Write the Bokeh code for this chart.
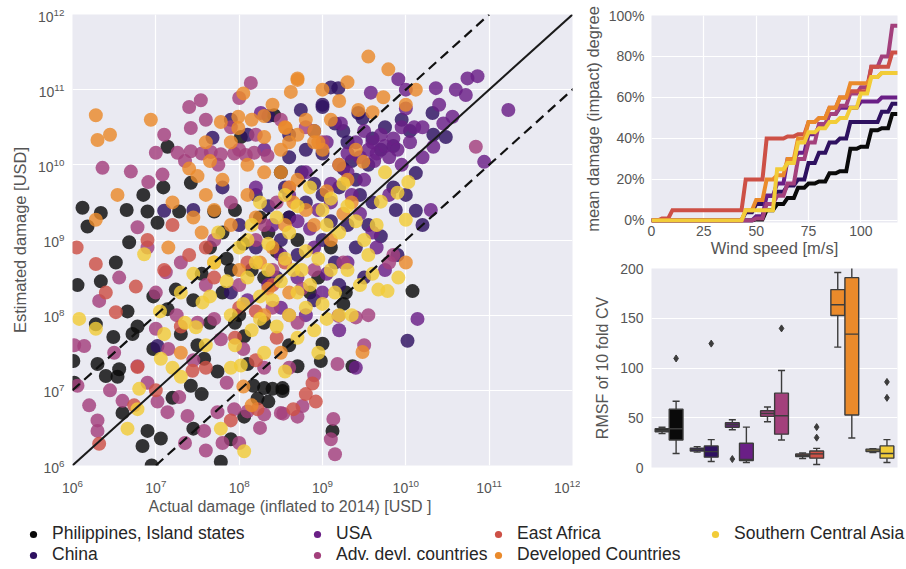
import numpy as np
from bokeh.plotting import figure
from bokeh.layouts import row, column
from bokeh.models import (FixedTicker, Slope, Legend, LegendItem, Title,
                          NumeralTickFormatter, Range1d, ColumnDataSource)
from bokeh.embed import file_html
from bokeh.resources import INLINE

# ---------------- data ----------------
regions = ["Philippines, Island states", "China", "USA", "Adv. devl. countries",
           "East Africa", "Developed Countries", "Southern Central Asia"]
colors = ["#0a0a0a", "#2e1160", "#6a1f86", "#a3407c", "#cd5046", "#ea8a2b", "#f2cc38"]

# scatter: (log10 actual damage, log10 estimated damage)
phil_log = [(7.14, 10.24), (7.09, 9.70), (7.42, 9.76), (6.12, 9.43), (6.34, 9.36), (6.18, 9.18),
            (6.90, 9.38), (7.28, 9.38), (7.02, 9.23), (6.68, 8.97), (7.70, 9.38), (8.02, 10.37),
            (8.42, 10.66), (8.50, 9.90), (6.34, 8.45), (6.52, 8.70), (6.97, 8.25), (7.24, 8.34),
            (7.14, 8.08), (6.66, 8.05), (6.78, 7.85), (6.72, 7.75), (6.49, 7.71), (6.28, 7.88),
            (6.30, 7.35), (6.40, 7.19), (6.54, 7.18), (6.56, 7.28), (6.97, 7.55), (7.30, 7.75),
            (7.42, 7.06), (7.58, 7.42), (7.74, 7.25), (8.06, 7.72), (8.17, 7.06), (8.30, 7.03),
            (8.40, 7.02), (8.52, 7.03), (6.84, 6.26), (6.90, 6.46), (7.06, 6.36), (7.45, 6.49),
            (8.06, 6.65), (8.22, 6.89), (7.78, 6.05), (6.06, 8.40), (6.01, 7.39), (6.02, 7.10),
            (10.08, 8.32), (9.36, 7.32), (8.98, 7.39), (9.28, 8.30), (9.25, 8.15), (8.52, 6.99),
            (8.70, 7.32), (9.00, 7.62), (9.12, 6.46), (7.65, 8.90), (7.80, 9.10), (7.90, 8.60),
            (8.05, 8.95), (8.30, 8.50), (8.45, 8.85), (8.60, 9.30), (7.55, 8.55), (7.80, 8.30),
            (8.00, 8.00), (8.30, 7.90), (8.95, 8.50), (9.10, 8.90), (7.55, 6.95), (6.95, 6.00),
            (8.15, 8.60), (8.35, 9.10), (8.70, 9.00), (8.85, 8.30), (7.95, 7.90), (8.60, 7.60),
            (7.65, 7.90), (7.45, 8.20), (7.95, 9.40), (8.25, 9.30), (6.65, 9.40), (6.85, 9.60),
            (7.20, 6.90), (7.50, 7.60), (8.10, 7.35), (8.35, 6.85), (7.90, 6.35), (6.60, 6.70),
            (7.85, 8.75)]
china_log = [(7.68, 10.36), (7.10, 9.39), (9.10, 11.03), (9.19, 11.02), (10.32, 10.69), (10.33, 10.40),
             (10.48, 10.37), (9.43, 10.69), (9.48, 10.62), (10.12, 9.89), (9.88, 9.40), (10.12, 9.39),
             (10.02, 7.66), (7.02, 7.59), (8.35, 10.65), (8.60, 10.40), (8.80, 10.20), (8.90, 10.45),
             (9.00, 10.15), (9.30, 10.30), (9.60, 10.35), (9.70, 10.20), (9.75, 10.50), (9.85, 10.25),
             (9.95, 10.60), (10.05, 10.45), (9.55, 10.00), (9.40, 9.80), (9.20, 9.70), (9.00, 9.60),
             (8.80, 9.50), (8.60, 9.30), (8.50, 9.00), (8.70, 8.80), (9.30, 9.20), (9.60, 9.50),
             (9.70, 9.05), (9.90, 8.80), (9.50, 8.50), (9.20, 8.40), (8.90, 8.20), (9.85, 9.70),
             (9.00, 10.80), (8.20, 9.60), (8.00, 9.20), (7.90, 8.30), (9.40, 8.90), (10.20, 9.20),
             (9.15, 10.55), (9.25, 10.45), (8.74, 10.73), (9.00, 10.77), (8.60, 10.10), (8.75, 9.90),
             (9.25, 9.95), (9.35, 10.05), (9.45, 9.60), (9.10, 9.25), (9.00, 9.00), (8.35, 9.45),
             (8.20, 8.90), (8.45, 8.50), (9.55, 9.20), (10.00, 9.60), (7.80, 9.70), (7.45, 9.40),
             (8.10, 10.40), (7.90, 10.60), (8.55, 9.70), (8.90, 9.75), (9.15, 8.70)]
usa_log = [(8.26, 10.69), (9.91, 11.14), (9.58, 10.96), (10.36, 11.02), (10.74, 11.15), (10.86, 11.18),
           (10.72, 10.93), (11.23, 10.73), (10.94, 10.04), (10.56, 10.64), (10.33, 10.24), (10.20, 10.50),
           (9.22, 10.55), (10.14, 7.95), (9.60, 10.30), (9.65, 10.15), (9.70, 10.40), (9.75, 10.25),
           (9.80, 10.10), (9.85, 10.35), (9.90, 10.20), (9.55, 10.20), (9.62, 10.05), (9.45, 10.10),
           (9.95, 10.00), (10.05, 10.30), (10.20, 10.10), (10.40, 10.80), (10.00, 10.75), (9.50, 9.80),
           (9.30, 9.90), (9.10, 9.50), (8.80, 9.90), (8.60, 9.60), (8.40, 9.20), (8.90, 8.90),
           (9.30, 8.70), (9.65, 8.90), (9.00, 8.30), (8.70, 8.50), (8.50, 8.10), (9.80, 9.60),
           (10.30, 9.40), (8.30, 10.20), (9.40, 7.30), (8.20, 9.70), (10.00, 11.00), (9.20, 10.00),
           (9.30, 10.15), (9.40, 10.30), (9.50, 10.45), (9.35, 9.60), (9.45, 9.35), (9.10, 9.75),
           (9.05, 10.30), (8.95, 9.40), (8.85, 9.15), (9.60, 9.10), (9.75, 8.60), (8.50, 8.80),
           (8.10, 8.20), (8.80, 8.00), (9.20, 7.80), (10.10, 10.50), (10.60, 11.00), (10.45, 10.55),
           (9.95, 10.50), (8.70, 9.25), (9.05, 8.55), (8.35, 8.40)]
adv_log = [(6.36, 9.96), (6.70, 9.91), (6.91, 9.77), (7.00, 10.16), (7.08, 9.87), (7.40, 10.77),
           (7.54, 10.86), (7.42, 10.49), (8.00, 10.89), (8.14, 11.09), (6.78, 9.17), (7.26, 10.16),
           (7.42, 10.18), (7.55, 10.15), (7.66, 10.17), (7.78, 10.14), (7.94, 10.15), (8.08, 10.13),
           (8.18, 10.16), (8.34, 10.12), (7.35, 10.05), (7.75, 10.00), (8.00, 10.20), (6.32, 8.19),
           (6.14, 7.59), (6.06, 7.06), (7.00, 7.82), (6.78, 7.32), (6.60, 6.86), (6.30, 6.60),
           (6.30, 6.46), (7.02, 6.85), (7.14, 6.71), (7.28, 6.91), (7.38, 6.66), (7.58, 6.46),
           (7.74, 6.71), (7.94, 6.75), (8.10, 6.72), (8.30, 6.68), (8.50, 6.70), (7.12, 8.57),
           (6.56, 8.50), (7.78, 7.68), (6.02, 7.60), (8.76, 6.79), (8.70, 6.65), (8.53, 6.69),
           (9.13, 6.62), (9.18, 7.35), (9.40, 7.97), (9.19, 7.99), (9.80, 8.70), (9.85, 8.80),
           (8.90, 7.20), (10.84, 10.24), (8.20, 9.00), (8.40, 8.60), (8.00, 8.40), (7.70, 9.00),
           (8.60, 9.70), (8.80, 10.50), (9.00, 10.30), (7.50, 7.90), (7.30, 8.70), (6.90, 8.90),
           (7.60, 6.20), (8.00, 6.30), (9.10, 6.35), (7.10, 10.40), (7.60, 10.60), (7.90, 10.50),
           (8.20, 10.40), (8.50, 10.60), (8.45, 9.50), (8.30, 9.20), (7.90, 9.50), (7.60, 8.40),
           (7.25, 8.00), (7.00, 8.30), (8.60, 8.00), (8.90, 8.60), (9.25, 8.70), (9.55, 8.00),
           (9.50, 7.60), (8.70, 7.90), (8.30, 7.30), (7.85, 7.10), (8.60, 7.30), (6.45, 7.00),
           (6.90, 7.10), (6.20, 6.80), (7.35, 6.30), (9.15, 6.15), (7.45, 7.40), (7.70, 7.95),
           (8.05, 7.55), (8.40, 8.10), (8.75, 8.35), (7.15, 7.55), (6.50, 7.50), (7.80, 6.30),
           (8.25, 6.50)]
eaf_log = [(6.28, 8.68), (6.76, 8.38), (6.52, 8.04), (6.78, 7.31), (6.32, 6.29), (6.74, 6.80),
           (7.44, 7.26), (8.22, 6.75), (8.88, 7.09), (8.92, 6.85), (8.80, 6.95), (7.60, 8.90),
           (7.20, 9.20), (8.00, 8.10), (8.20, 7.40), (7.90, 6.60), (6.90, 9.00), (8.40, 8.40),
           (6.05, 8.90), (7.70, 8.50), (8.55, 8.70), (8.10, 8.70), (7.60, 7.30), (7.00, 7.00),
           (8.65, 6.75), (6.40, 8.30), (7.40, 8.80), (8.45, 7.70), (7.30, 7.85), (8.20, 8.05),
           (7.95, 7.70), (7.10, 8.60)]
dev_log = [(6.28, 10.66), (6.30, 10.33), (6.94, 10.60), (6.54, 9.60), (7.78, 10.57), (7.99, 10.64),
           (7.99, 10.49), (8.30, 10.37), (8.56, 10.49), (8.62, 10.97), (8.70, 11.13), (6.28, 9.27),
           (9.55, 11.44), (9.79, 11.27), (8.70, 11.15), (9.00, 11.00), (9.73, 10.90), (10.12, 11.00),
           (9.43, 10.73), (10.00, 10.80), (9.49, 10.04), (9.48, 7.51), (10.00, 8.70), (7.40, 9.95),
           (7.50, 9.85), (7.20, 9.50), (7.60, 9.60), (7.80, 9.80), (8.10, 10.00), (8.30, 9.90),
           (8.50, 10.20), (8.60, 9.70), (8.80, 10.60), (8.90, 10.30), (9.10, 10.60), (9.20, 10.00),
           (9.30, 9.80), (8.20, 9.30), (7.90, 9.20), (8.40, 8.90), (8.90, 9.20), (9.10, 9.00),
           (9.35, 9.50), (7.70, 8.70), (8.00, 8.60), (8.60, 8.30), (8.30, 8.00), (8.50, 7.50),
           (8.15, 6.80), (7.30, 7.50), (8.40, 10.80), (8.05, 10.95), (9.30, 11.10), (8.55, 10.50),
           (8.60, 10.30), (8.70, 10.40), (8.90, 10.45), (9.00, 10.20), (8.95, 10.30), (8.50, 9.90),
           (8.70, 9.80), (8.65, 9.50), (8.80, 9.40), (8.55, 9.20), (9.05, 9.65), (7.60, 10.30),
           (7.90, 10.30), (8.15, 10.60), (8.30, 10.65), (7.70, 9.40), (7.55, 9.10), (8.10, 9.60),
           (8.25, 8.70), (9.60, 10.70), (9.20, 10.85), (6.45, 10.40), (9.25, 9.35), (7.15, 8.90),
           (7.45, 9.30), (8.35, 8.35), (8.05, 7.05), (7.65, 10.05), (9.40, 10.20)]
sca_log = [(6.86, 8.81), (6.08, 7.95), (6.28, 7.82), (7.10, 7.75), (7.06, 7.42), (6.80, 7.02),
           (7.30, 7.18), (7.56, 8.17), (7.70, 8.70), (7.48, 7.84), (8.02, 7.33), (8.06, 6.19),
           (6.66, 6.49), (6.78, 6.75), (7.78, 6.49), (10.03, 9.77), (9.90, 9.63), (10.00, 9.27),
           (9.70, 9.51), (9.91, 8.50), (9.67, 8.34), (9.78, 8.32), (8.00, 8.90), (8.10, 8.50),
           (8.20, 8.70), (8.25, 8.25), (8.35, 8.60), (8.40, 8.20), (8.50, 8.45), (8.55, 8.75),
           (8.60, 8.00), (8.70, 8.30), (8.75, 8.60), (8.80, 8.10), (8.85, 8.40), (8.90, 7.80),
           (8.95, 8.75), (9.00, 8.15), (9.05, 7.95), (9.10, 8.60), (9.15, 8.30), (9.20, 9.10),
           (9.30, 8.60), (9.35, 8.00), (9.45, 8.40), (9.55, 8.80), (7.90, 8.00), (7.95, 7.60),
           (8.15, 7.80), (8.30, 7.50), (7.75, 9.10), (8.45, 9.30), (8.60, 9.10), (8.25, 9.50),
           (9.00, 9.40), (8.70, 7.70), (7.30, 8.30), (8.55, 9.60), (8.70, 9.45), (8.85, 9.70),
           (9.10, 9.55), (9.25, 9.75), (9.40, 9.25), (9.50, 9.00), (9.65, 9.20), (8.35, 8.95),
           (8.15, 9.20), (7.85, 8.45), (8.05, 8.15), (8.80, 8.85), (8.45, 7.85), (8.95, 7.50),
           (9.20, 8.00), (9.60, 8.55), (7.60, 7.60), (7.35, 7.90), (7.20, 7.30), (9.75, 9.90),
           (9.30, 9.45), (7.45, 8.55), (7.65, 8.25), (8.25, 7.95), (8.55, 7.25), (8.10, 9.00),
           (7.05, 8.05), (7.90, 7.30), (8.65, 8.60), (9.05, 9.20)]
scatter_sets = [phil_log, china_log, usa_log, adv_log, eaf_log, dev_log, sca_log]

# damage function curves
wind_speed = [0, 5, 10, 15, 20, 25, 30, 35, 40, 45, 50, 55, 60, 65, 70, 75, 80, 85, 90, 95,
              100, 105, 110, 115, 117.5]
phil_md = [0, 0, 0, 0, 0, 0, 0, 0, 0, 0, 0.005, 0.05, 0.08, 0.11, 0.16, 0.18, 0.19, 0.23, 0.24,
           0.35, 0.36, 0.44, 0.45, 0.52, 0.52]
china_md = [0, 0, 0, 0, 0, 0, 0, 0, 0, 0.04, 0.08, 0.12, 0.14, 0.17, 0.20, 0.28, 0.33, 0.38, 0.40,
            0.48, 0.48, 0.48, 0.53, 0.57, 0.57]
usa_md = [0, 0, 0, 0, 0, 0, 0, 0, 0, 0, 0.02, 0.12, 0.18, 0.30, 0.33, 0.42, 0.46, 0.52, 0.55,
          0.55, 0.58, 0.58, 0.60, 0.60, 0.60]
adv_md = [0, 0, 0, 0, 0, 0, 0, 0, 0, 0, 0.01, 0.08, 0.12, 0.18, 0.30, 0.38, 0.47, 0.52, 0.56,
          0.62, 0.65, 0.75, 0.80, 0.95, 0.95]
eaf_md = [0, 0.01, 0.05, 0.05, 0.05, 0.05, 0.05, 0.05, 0.05, 0.20, 0.20, 0.40, 0.40, 0.41, 0.42,
          0.48, 0.50, 0.55, 0.60, 0.63, 0.63, 0.75, 0.75, 0.82, 0.82]
dev_md = [0, 0, 0, 0, 0, 0, 0, 0, 0, 0.05, 0.10, 0.20, 0.22, 0.30, 0.40, 0.48, 0.50, 0.55, 0.60,
          0.67, 0.67, 0.70, 0.72, 0.72, 0.72]
sca_md = [0, 0, 0, 0, 0, 0, 0, 0, 0, 0.05, 0.05, 0.05, 0.25, 0.28, 0.38, 0.43, 0.45, 0.48, 0.50,
          0.55, 0.62, 0.70, 0.72, 0.72, 0.72]
curves = [phil_md, china_md, usa_md, adv_md, eaf_md, dev_md, sca_md]

# RMSF of 10-fold CV box statistics: two boxes per region
box_region = [0, 0, 1, 1, 2, 2, 3, 3, 4, 4, 5, 5, 6, 6]
box_hue = [0, 1] * 7
box_lo = [34, 14, 15.5, 6, 38, 5, 46, 27.6, 9, 3, 121, 29.6, 15, 5]
box_q1 = [36, 27.6, 16.5, 10.4, 40.5, 7, 51.4, 33.5, 11, 9.4, 152.8, 52.7, 16, 9.4]
box_med = [37.5, 39, 18, 16, 43, 8, 54.3, 52, 12.3, 13.7, 163.5, 134, 17.5, 14]
box_q3 = [39, 58.5, 19.5, 21.7, 45, 24.4, 57, 74.7, 13.5, 16.6, 178.8, 190.8, 18.5, 21.7]
box_hi = [40.5, 66.6, 21, 28, 48, 40.6, 60.8, 97.5, 14.5, 19.2, 196, 230, 19, 28]
outlier_box = [1, 3, 4, 7, 9, 9, 13, 13]
outlier_val = [109.6, 124.5, 8.5, 139.8, 40.6, 30, 86, 70]

# ---------------- styling helpers ----------------
BG = "#EAEAF2"
TICK = "#555555"
FONT = "Liberation Sans"


def style(fig):
    fig.background_fill_color = BG
    fig.border_fill_color = "white"
    fig.outline_line_color = None
    fig.grid.grid_line_color = "white"
    fig.grid.grid_line_width = 1.2
    for ax in fig.axis:
        ax.axis_line_color = None
        ax.major_tick_line_color = None
        ax.minor_tick_line_color = None
        ax.major_tick_out = 0
        ax.major_tick_in = 0
        ax.minor_tick_out = 0
        ax.major_label_text_color = TICK
        ax.major_label_text_font = FONT
        ax.axis_label_text_color = TICK
        ax.axis_label_text_font = FONT
        ax.axis_label_text_font_style = "normal"


# ---------------- main scatter ----------------
p = figure(width=580, height=517, x_axis_type="log", y_axis_type="log",
           x_range=Range1d(1e6, 1e12), y_range=Range1d(1e6, 1e12),
           output_backend="svg", toolbar_location=None,
           min_border_left=72, min_border_right=8, min_border_top=14, min_border_bottom=52)
style(p)
decades = [10.0 ** k for k in range(6, 13)]
p.xaxis.ticker = FixedTicker(ticks=decades, minor_ticks=[])
p.yaxis.ticker = FixedTicker(ticks=decades, minor_ticks=[])
p.xaxis.major_label_text_font_size = "14px"
p.yaxis.major_label_text_font_size = "14px"
p.xaxis.major_label_standoff = 13
p.yaxis.major_label_standoff = 8
p.yaxis.axis_label = "Estimated damage [USD]"
p.yaxis.axis_label_text_font_size = "16.5px"
p.yaxis.axis_label_standoff = 6

for pts, c in zip(scatter_sets, colors):
    arr = np.array(pts)
    p.scatter(10 ** arr[:, 0], 10 ** arr[:, 1], size=14, fill_color=c, fill_alpha=0.82,
              line_color=None)

p.add_layout(Slope(gradient=1, y_intercept=0, line_color="#1a1a1a", line_width=2))
p.add_layout(Slope(gradient=10, y_intercept=0, line_color="#111111", line_width=2.2,
                   line_dash="10 6"))
p.add_layout(Slope(gradient=0.1, y_intercept=0, line_color="#111111", line_width=2.2,
                   line_dash="10 6"))
xt = Title(text="Actual damage (inflated to 2014) [USD ]", align="left", offset=76,
           text_font_size="16px", text_font_style="normal", text_color=TICK, text_font=FONT,
           standoff=0)
p.add_layout(xt, "below")

# ---------------- damage curves ----------------
q = figure(width=326, height=261, x_range=Range1d(0, 117.5), y_range=Range1d(-0.01, 1.0),
           output_backend="svg", toolbar_location=None,
           min_border_left=68, min_border_right=9, min_border_top=15, min_border_bottom=39)
style(q)
RAMP = 2.0
for vals, c in zip(curves, colors):
    xs, ys = [], []
    for i in range(len(wind_speed)):
        xs.append(wind_speed[i])
        ys.append(vals[i])
        if i + 1 < len(wind_speed):
            xs.append(max(wind_speed[i], wind_speed[i + 1] - RAMP))
            ys.append(vals[i])
    q.line(xs, ys, line_width=4, line_color=c, line_join="miter")
q.xaxis.ticker = FixedTicker(ticks=[0, 25, 50, 75, 100], minor_ticks=[])
q.yaxis.ticker = FixedTicker(ticks=[0, 0.2, 0.4, 0.6, 0.8, 1.0], minor_ticks=[])
q.yaxis.formatter = NumeralTickFormatter(format="0%")
q.xaxis.axis_label = "Wind speed [m/s]"
q.yaxis.axis_label = "mean damage (impact) degree"
for ax in q.axis:
    ax.major_label_text_font_size = "14px"
    ax.axis_label_text_font_size = "16.5px"
q.xaxis.major_label_standoff = 3
q.yaxis.major_label_standoff = 7
q.xaxis.axis_label_standoff = 0
q.yaxis.axis_label_standoff = 4

# ---------------- box plot ----------------
b = figure(width=326, height=256, x_range=Range1d(-0.5, 6.5), y_range=Range1d(0, 200),
           output_backend="svg", toolbar_location=None,
           min_border_left=68, min_border_right=8, min_border_top=7, min_border_bottom=50)
style(b)
b.xgrid.visible = False
b.xaxis.visible = False
b.yaxis.ticker = FixedTicker(ticks=[0, 50, 100, 150, 200], minor_ticks=[])
b.yaxis.major_label_text_font_size = "14px"
b.yaxis.axis_label = "RMSF of 10 fold CV"
b.yaxis.axis_label_text_font_size = "16px"
b.yaxis.major_label_standoff = 8
b.yaxis.axis_label_standoff = 6

bw = 0.4
bx = np.array(box_region) + (np.array(box_hue) - 0.5) * bw
bsrc = ColumnDataSource(dict(x=bx, lo=box_lo, q1=box_q1, med=box_med, q3=box_q3, hi=box_hi,
                             c=[colors[r] for r in box_region],
                             cl=bx - bw * 0.25, cr=bx + bw * 0.25,
                             ml=bx - bw * 0.48, mr=bx + bw * 0.48))
EDGE = "#3c3c3c"
b.segment(x0="x", y0="q3", x1="x", y1="hi", source=bsrc, line_color=EDGE, line_width=1.4)
b.segment(x0="x", y0="q1", x1="x", y1="lo", source=bsrc, line_color=EDGE, line_width=1.4)
b.segment(x0="cl", y0="hi", x1="cr", y1="hi", source=bsrc, line_color=EDGE, line_width=1.4)
b.segment(x0="cl", y0="lo", x1="cr", y1="lo", source=bsrc, line_color=EDGE, line_width=1.4)
b.vbar(x="x", bottom="q1", top="q3", width=bw * 0.98, source=bsrc, fill_color="c",
       line_color=EDGE, line_width=1.4)
b.segment(x0="ml", y0="med", x1="mr", y1="med", source=bsrc, line_color=EDGE, line_width=1.4)
b.scatter(bx[outlier_box], outlier_val, marker="diamond", size=7, fill_color=EDGE,
          line_color=EDGE)

# ---------------- legend strip ----------------
lg = figure(width=906, height=52, output_backend="svg", toolbar_location=None,
            min_border=0, outline_line_color=None, x_range=Range1d(0, 1), y_range=Range1d(0, 1))
lg.axis.visible = False
lg.grid.visible = False
dummies = [lg.scatter([np.nan], [np.nan], size=8, fill_color=c, line_color=None) for c in colors]
legend_cols = [[0, 1], [2, 3], [4, 5], [6]]
legend_x = [24, 308, 489, 706]
for idxs, x0 in zip(legend_cols, legend_x):
    leg = Legend(items=[LegendItem(label=regions[i], renderers=[dummies[i]]) for i in idxs],
                 location=(x0, 4 + 21 * (2 - len(idxs))), orientation="vertical",
                 glyph_width=18, glyph_height=18, label_height=21, label_standoff=10,
                 spacing=0, padding=0, margin=0, border_line_color=None,
                 background_fill_alpha=0, label_text_font=FONT,
                 label_text_font_size="17.5px", label_text_color="#262626")
    lg.add_layout(leg)

layout = column(row(p, column(q, b)), lg)
open("out.html", "w").write(file_html(layout, INLINE))
